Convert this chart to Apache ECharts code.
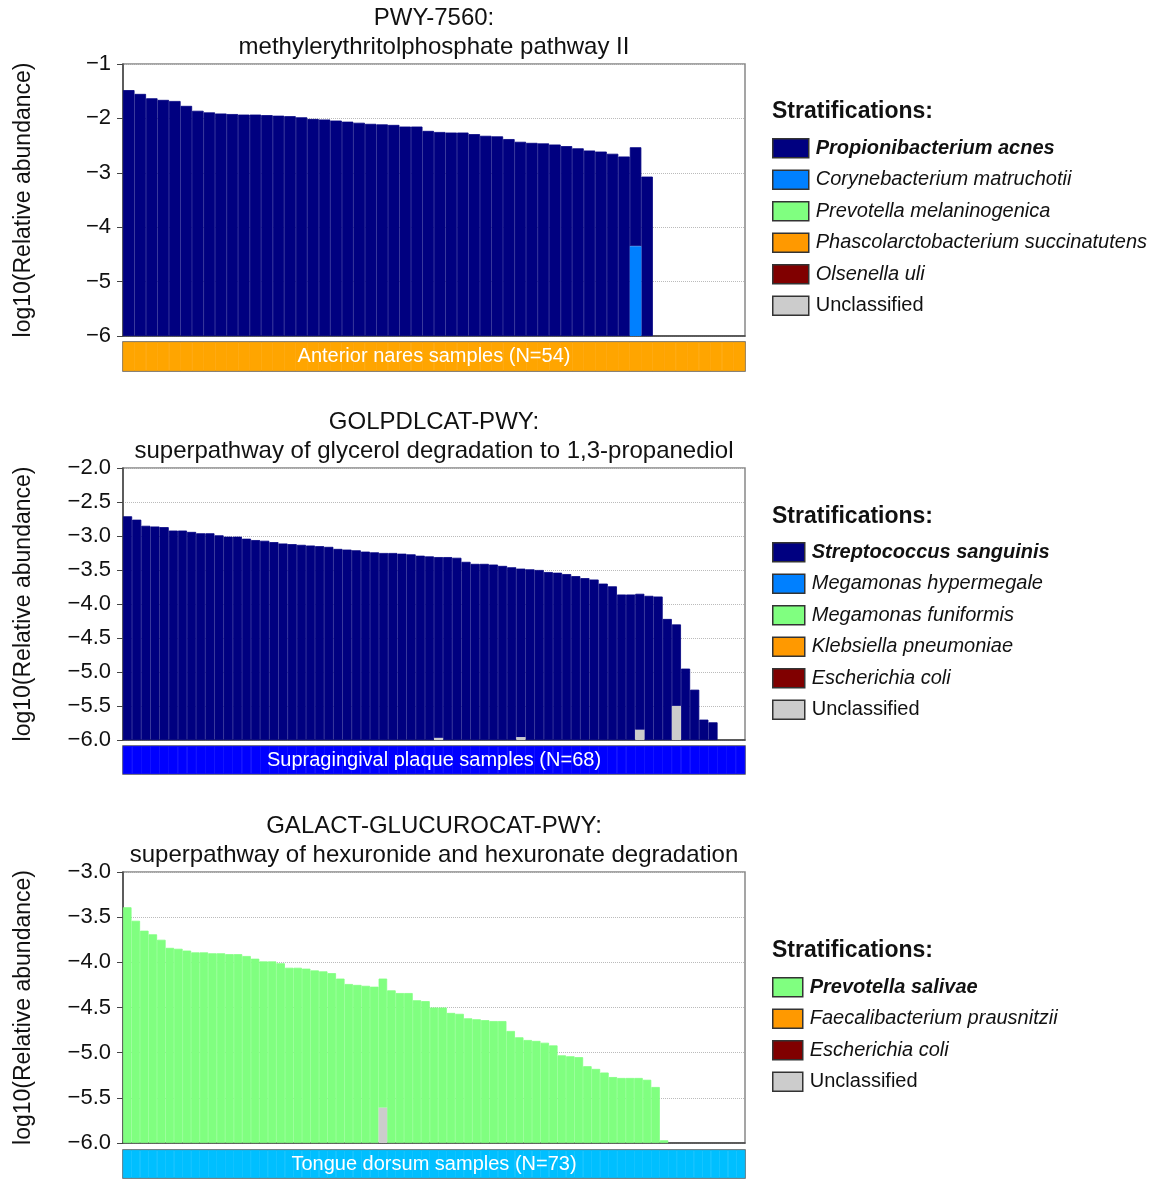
<!DOCTYPE html>
<html>
<head>
<meta charset="utf-8">
<title>Stratified pathway abundance</title>
<script src="https://cdn.jsdelivr.net/npm/echarts@6/dist/echarts.min.js"></script>
<style>
  html, body { margin: 0; padding: 0; background: #fff; }
  #chart { width: 1157px; height: 1179px; }
</style>
</head>
<body>
<div id="chart"></div>
<script>
// ---- panel 1: PWY-7560, anterior nares (54 samples, last 8 empty)
const p1Title = 'PWY-7560:\nmethylerythritolphosphate pathway II';
const p1Band = 'Anterior nares samples (N=54)';
const p1Species = ['Propionibacterium acnes', 'Corynebacterium matruchotii', 'Prevotella melaninogenica',
  'Phascolarctobacterium succinatutens', 'Olsenella uli', 'Unclassified'];
const p1Total = [
  -1.48, -1.55, -1.63, -1.66, -1.68, -1.77, -1.86, -1.89, -1.91, -1.92,
  -1.93, -1.93, -1.94, -1.95, -1.96, -1.98, -2.01, -2.02, -2.04, -2.06,
  -2.08, -2.10, -2.11, -2.12, -2.15, -2.15, -2.23, -2.25, -2.26, -2.26,
  -2.29, -2.32, -2.33, -2.38, -2.43, -2.45, -2.46, -2.48, -2.51, -2.55,
  -2.59, -2.61, -2.65, -2.70, -2.53, -3.07,
  null, null, null, null, null, null, null, null
];
const p1CoryneIdx = [44];
const p1CoryneTop = [-4.35];

// ---- panel 2: GOLPDLCAT-PWY, supragingival plaque (68 samples, last 3 empty)
const p2Title = 'GOLPDLCAT-PWY:\nsuperpathway of glycerol degradation to 1,3-propanediol';
const p2Band = 'Supragingival plaque samples (N=68)';
const p2Species = ['Streptococcus sanguinis', 'Megamonas hypermegale', 'Megamonas funiformis',
  'Klebsiella pneumoniae', 'Escherichia coli', 'Unclassified'];
const p2Total = [
  -2.71, -2.76, -2.85, -2.86, -2.87, -2.92, -2.92, -2.94, -2.96, -2.96,
  -2.99, -3.01, -3.01, -3.04, -3.06, -3.07, -3.09, -3.11, -3.12, -3.13,
  -3.14, -3.15, -3.16, -3.19, -3.20, -3.21, -3.23, -3.24, -3.25, -3.25,
  -3.26, -3.27, -3.29, -3.30, -3.31, -3.31, -3.32, -3.38, -3.41, -3.41,
  -3.42, -3.44, -3.46, -3.48, -3.49, -3.50, -3.53, -3.54, -3.56, -3.59,
  -3.62, -3.64, -3.70, -3.74, -3.86, -3.86, -3.85, -3.88, -3.89, -4.22,
  -4.30, -4.95, -5.26, -5.70, -5.74,
  null, null, null
];
const p2UnclIdx = [34, 43, 56, 60];
const p2UnclTop = [-5.97, -5.96, -5.85, -5.50];

// ---- panel 3: GALACT-GLUCUROCAT-PWY, tongue dorsum (73 samples, last 9 empty)
const p3Title = 'GALACT-GLUCUROCAT-PWY:\nsuperpathway of hexuronide and hexuronate degradation';
const p3Band = 'Tongue dorsum samples (N=73)';
const p3Species = ['Prevotella salivae', 'Faecalibacterium prausnitzii', 'Escherichia coli', 'Unclassified'];
const p3Total = [
  -3.39, -3.54, -3.65, -3.69, -3.75, -3.84, -3.85, -3.87, -3.89, -3.89,
  -3.90, -3.90, -3.91, -3.91, -3.93, -3.96, -3.99, -3.99, -4.01, -4.06,
  -4.06, -4.07, -4.09, -4.10, -4.12, -4.18, -4.24, -4.25, -4.26, -4.27,
  -4.18, -4.31, -4.34, -4.34, -4.42, -4.43, -4.50, -4.50, -4.56, -4.57,
  -4.62, -4.63, -4.64, -4.65, -4.65, -4.76, -4.83, -4.86, -4.87, -4.89,
  -4.92, -5.03, -5.04, -5.05, -5.15, -5.18, -5.22, -5.27, -5.28, -5.28,
  -5.28, -5.30, -5.38, -5.97,
  null, null, null, null, null, null, null, null, null
];
const p3UnclIdx = [30];
const p3UnclTop = [-5.61];

const FONT = '"Liberation Sans", Arial, sans-serif';
const BASE = 6; // bars grow up from log10 = -6
const NAVY = '#000080', SKY = '#0080FF', LGREEN = '#80FF80', ORANGE = '#FF9900', MAROON = '#800000', GREY = '#CCCCCC';

const panels = [
  {
    title: p1Title, band: p1Band, bandColor: '#FFA500', total: p1Total, species: p1Species,
    colors: [NAVY, SKY, LGREEN, ORANGE, MAROON, GREY],
    parts: { 'Corynebacterium matruchotii': { idx: p1CoryneIdx, top: p1CoryneTop } },
    yMax: -1, step: 1, digits: 0,
    titleTop: 4, plotTop: 64, plotH: 272, bandTop: 342, bandH: 29, legTitleTop: 100, legTop: 138, swatchW: 36
  },
  {
    title: p2Title, band: p2Band, bandColor: '#0000FF', total: p2Total, species: p2Species,
    colors: [NAVY, SKY, LGREEN, ORANGE, MAROON, GREY],
    parts: { 'Unclassified': { idx: p2UnclIdx, top: p2UnclTop } },
    yMax: -2, step: 0.5, digits: 1,
    titleTop: 408, plotTop: 468, plotH: 272, bandTop: 746, bandH: 28, legTitleTop: 505, legTop: 542, swatchW: 32
  },
  {
    title: p3Title, band: p3Band, bandColor: '#00BFFF', total: p3Total, species: p3Species,
    colors: [LGREEN, ORANGE, MAROON, GREY],
    parts: { 'Unclassified': { idx: p3UnclIdx, top: p3UnclTop } },
    yMax: -3, step: 0.5, digits: 1,
    titleTop: 812, plotTop: 872, plotH: 271, bandTop: 1150, bandH: 28, legTitleTop: 939, legTop: 977, swatchW: 30
  }
];

function minus(s) {
  return String(s).replace('-', '\u2212');
}

const option = {
  animation: false,
  textStyle: { fontFamily: FONT },
  grid: [], xAxis: [], yAxis: [], series: [], legend: [], title: []
};

panels.forEach((p, k) => {
  const n = p.total.length;
  const cats = p.total.map((_, i) => 'S' + (i + 1));
  const gPlot = option.grid.length, gBand = gPlot + 1;

  option.grid.push(
    { left: 123, width: 622, top: p.plotTop, height: p.plotH, show: true, borderColor: '#888', borderWidth: 1.5, backgroundColor: 'transparent' },
    { left: 123, width: 622, top: p.bandTop, height: p.bandH, show: true, borderColor: '#555', borderWidth: 1.5, backgroundColor: 'transparent' }
  );

  option.xAxis.push(
    { gridIndex: gPlot, type: 'category', data: cats, axisLabel: { show: false }, axisTick: { show: false },
      axisLine: { show: true, lineStyle: { color: '#444', width: 1.5 } } },
    { gridIndex: gBand, type: 'category', data: cats, show: false }
  );

  option.yAxis.push(
    {
      gridIndex: gPlot, type: 'value', min: 0, max: p.yMax + BASE, interval: p.step,
      axisLine: { show: true, lineStyle: { color: '#444', width: 1.5 } },
      axisTick: { show: true, length: 6, lineStyle: { color: '#444' } },
      axisLabel: { fontSize: 22, color: '#111', margin: 12, formatter: v => minus((v - BASE).toFixed(p.digits)) },
      splitLine: { show: true, lineStyle: { type: 'dotted', color: '#bbb', width: 1 } },
      name: 'log10(Relative abundance)', nameLocation: 'middle', nameGap: 88,
      nameTextStyle: { fontSize: 23, color: '#111' }
    },
    { gridIndex: gBand, type: 'value', min: 0, max: 1, show: false }
  );

  // minor contributors sit at the bottom of each stack
  const below = new Array(n).fill(0);
  p.species.forEach((name, si) => {
    if (si === 0) return;
    const data = new Array(n).fill(null);
    const part = p.parts[name];
    if (part) {
      part.idx.forEach((i, j) => {
        data[i] = part.top[j] + BASE;
        below[i] += part.top[j] + BASE;
      });
    }
    option.series.push({
      name, type: 'bar', xAxisIndex: gPlot, yAxisIndex: gPlot, stack: 'panel' + k,
      barWidth: '100%', data, z: 3, itemStyle: { color: p.colors[si] }
    });
  });

  // dominant species on top; bars a touch wider than the slot so no hairline seams show
  option.series.push({
    name: p.species[0], type: 'bar', xAxisIndex: gPlot, yAxisIndex: gPlot, stack: 'panel' + k,
    barWidth: '104%',
    data: p.total.map((v, i) => v == null ? null : v + BASE - below[i]),
    itemStyle: { color: p.colors[0], borderColor: p.colors[0], borderWidth: 0.8 }
  });

  // sample band under the plot
  option.series.push({
    name: p.band, type: 'bar', xAxisIndex: gBand, yAxisIndex: gBand, silent: true,
    barWidth: '104%', data: cats.map(() => 1),
    itemStyle: { color: p.bandColor, borderColor: p.bandColor, borderWidth: 0.8 }
  });

  option.title.push(
    { text: p.title, left: 434, top: p.titleTop, textAlign: 'center', padding: 0,
      textStyle: { fontSize: 24, fontWeight: 'normal', color: '#111', lineHeight: 29, fontFamily: FONT } },
    { text: p.band, left: 434, top: p.bandTop + p.bandH / 2, textAlign: 'center', textVerticalAlign: 'middle', padding: 0, z: 10,
      textStyle: { fontSize: 20, fontWeight: 'normal', color: '#fff', fontFamily: FONT } },
    { text: 'Stratifications:', left: 772, top: p.legTitleTop, padding: 0,
      textStyle: { fontSize: 23, fontWeight: 'bold', color: '#111', fontFamily: FONT } }
  );

  option.legend.push({
    orient: 'vertical', left: 772, top: p.legTop, padding: 0,
    icon: 'rect', itemWidth: p.swatchW, itemHeight: 19, itemGap: 11, selectedMode: false,
    itemStyle: { borderColor: '#333', borderWidth: 1.5 },
    textStyle: { fontSize: 20, color: '#111', lineHeight: 20, fontFamily: FONT, padding: [0, 0, 0, 2] },
    data: p.species.map((name, si) => ({
      name,
      textStyle: si === 0 ? { fontWeight: 'bold', fontStyle: 'italic' }
        : { fontWeight: 'normal', fontStyle: name === 'Unclassified' ? 'normal' : 'italic' }
    }))
  });
});

const chart = echarts.init(document.getElementById('chart'));
chart.setOption(option);
</script>
</body>
</html>
